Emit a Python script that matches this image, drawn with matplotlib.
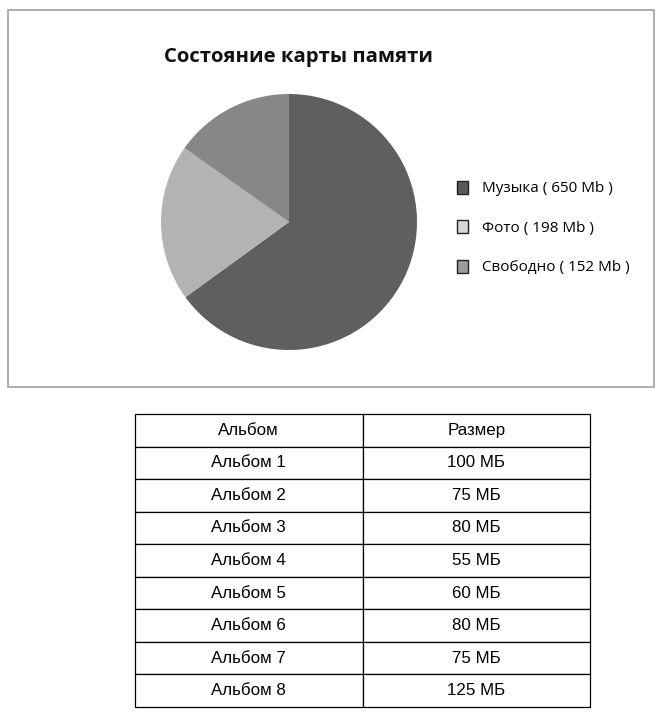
import matplotlib
matplotlib.use("Agg")
import matplotlib.pyplot as plt
from matplotlib.patches import Patch, Rectangle

# memory card state (pie)
parts = ["Музыка", "Фото", "Свободно"]
part_sizes = [650, 198, 152]
part_colors = ["#5f5f5f", "#b3b3b3", "#878787"]
legend_colors = ["#5a5a5a", "#d6d6d6", "#9c9c9c"]

# albums table
table_header = ["Альбом", "Размер"]
albums = ["Альбом 1", "Альбом 2", "Альбом 3", "Альбом 4",
          "Альбом 5", "Альбом 6", "Альбом 7", "Альбом 8"]
album_sizes = [100, 75, 80, 55, 60, 80, 75, 125]

W, H = 661, 712
fig = plt.figure(figsize=(W / 100, H / 100), dpi=100)


def px_box(x0, y0, x1, y1):
    # pixel box (top-left origin) -> figure fraction rect
    return [x0 / W, 1 - y1 / H, (x1 - x0) / W, (y1 - y0) / H]


# outer chart frame
fig.patches.append(Rectangle((8 / W, 1 - 387 / H), 646 / W, 377 / H,
                             transform=fig.transFigure, fill=False,
                             edgecolor="#a8a8a8", lw=1.3))

fig.text(298 / W, 1 - 57 / H, "Состояние карты памяти", ha="center", va="center",
         fontsize=14.6, fontweight="bold", family="Open Sans", color="#111111")

# pie
ax = fig.add_axes(px_box(161, 94, 417, 350))
ax.pie(part_sizes, colors=part_colors, startangle=90, counterclock=False,
       radius=1, wedgeprops=dict(edgecolor="none"))
ax.set_xlim(-1, 1)
ax.set_ylim(-1, 1)
ax.axis("off")

handles = [Patch(facecolor=c, edgecolor="#222222", lw=1.0) for c in legend_colors]
labels = [f"{n} ( {v} Mb )" for n, v in zip(parts, part_sizes)]
fig.legend(handles, labels, loc="center left", bbox_to_anchor=(443 / W, 1 - 228 / H),
           frameon=False, handlelength=0.72, handleheight=0.95, handletextpad=0.9,
           labelspacing=1.55, prop=dict(family="Open Sans", size=11))

# table
tax = fig.add_axes(px_box(135, 414, 590, 707))
tax.axis("off")
rows = [[a, f"{s} МБ"] for a, s in zip(albums, album_sizes)]
tbl = tax.table(cellText=rows, colLabels=table_header, cellLoc="center",
                bbox=[0, 0, 1, 1])
tbl.auto_set_font_size(False)
for (r, c), cell in tbl.get_celld().items():
    cell.set_edgecolor("black")
    cell.set_linewidth(0.9)
    cell.get_text().set_fontsize(12.2)
    cell.get_text().set_family("Liberation Sans")

fig.savefig("out.png", dpi=100)
